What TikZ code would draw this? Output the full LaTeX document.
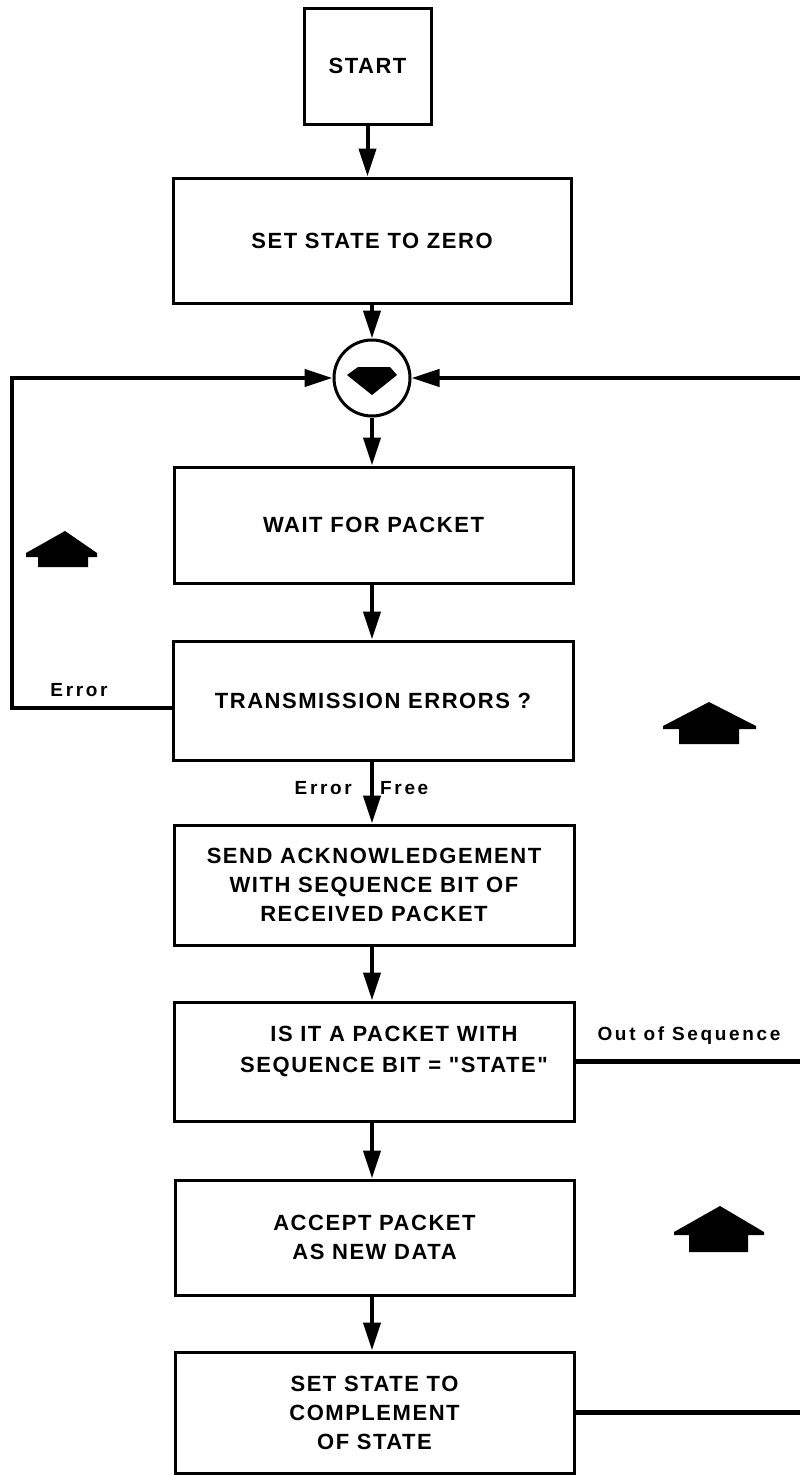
\documentclass[tikz,border=0pt]{standalone}
\usepackage{fontspec}
\newfontfamily\bxf{Liberation Sans}[LetterSpace=7]
\newfontfamily\lbf{Liberation Sans}[LetterSpace=14]
\usetikzlibrary{arrows.meta}
\begin{document}
\begin{tikzpicture}[x=1pt,y=-1pt,
  box/.style={draw, line width=3pt, inner sep=0pt, align=center,
    font=\bxf\bfseries\fontsize{22}{29}\selectfont},
  boxtext/.style={inner sep=0pt, align=center,
    font=\bxf\bfseries\fontsize{22}{31}\selectfont},
  conn/.style={line width=4pt, -{Triangle[length=28pt,width=17pt]}},
  plainline/.style={line width=4.5pt},
  lbl/.style={inner sep=0pt, font=\lbf\bfseries\fontsize{19}{22}\selectfont},
  fat/.style={fill=black}]
\useasboundingbox (0,0) rectangle (800,1476);
\fill[white] (0,0) rectangle (800,1476);

% boxes
\node[box, minimum width=127pt, minimum height=116pt] (start) at (367.5,66) {START};
\node[box, minimum width=398pt, minimum height=125pt] (zero) at (372,240.5) {SET STATE TO ZERO};
\node[draw, circle, line width=3pt, minimum size=76pt, inner sep=0pt] (junc) at (372,378) {};
\node[box, minimum width=399pt, minimum height=116pt] (wait) at (373.5,525) {WAIT FOR PACKET};
\node[box, minimum width=400pt, minimum height=119pt] (trans) at (373,700.5) {TRANSMISSION ERRORS ?};
\node[box, minimum width=400pt, minimum height=120pt] (ack) at (374,885)
  {SEND ACKNOWLEDGEMENT\\WITH SEQUENCE BIT OF\\RECEIVED PACKET};
\node[box, minimum width=400pt, minimum height=119pt] (seq) at (374,1061.5) {};
\node[boxtext] (seqt) at (394,1051) {IS IT A PACKET WITH\\SEQUENCE BIT = "STATE"};
\node[box, minimum width=399pt, minimum height=115pt] (acc) at (374.5,1237.5)
  {ACCEPT PACKET\\AS NEW DATA};
\node[box, minimum width=399pt, minimum height=121pt] (comp) at (374.5,1412.5)
  {SET STATE TO\\COMPLEMENT\\OF STATE};

% junction symbol
\fill (358,367) -- (390,367) -- (397,375) -- (372,395) -- (347,375) -- cycle;

% labels
\node[lbl] (errl) at (79,690) {Error};
\node[lbl, anchor=east] (errf) at (352,788) {Error};
\node[lbl, anchor=west] (free) at (380,788) {Free};
\node[lbl] (oos) at (689,1036) {Out of Sequence};

% coordinates at the right edge and left corner
\coordinate (lcorner) at (12,378);
\coordinate (r1) at (800,378);
\coordinate (r2) at (800,1061.5);
\coordinate (r3) at (800,1412.5);

% connectors
\draw[conn] (start.south) -- (start.south |- zero.north);
\draw[conn] (zero.south -| junc.center) -- (junc.north);
\draw[conn] (junc.south) -- (junc.south |- wait.north);
\draw[conn] (wait.south -| junc.center) -- (trans.north -| junc.center);
\draw[conn] (trans.south -| junc.center) -- (ack.north -| junc.center);
\draw[conn] (ack.south -| junc.center) -- (seq.north -| junc.center);
\draw[conn] (seq.south -| junc.center) -- (acc.north -| junc.center);
\draw[conn] (acc.south -| junc.center) -- (comp.north -| junc.center);
\draw[conn] ([yshift=-7.5pt]trans.west) -| (lcorner) -- (junc.west);
\draw[conn] (r1) -- (junc.east);
\draw[plainline] (seq.east) -- (r2);
\draw[plainline] (comp.east) -- (r3);

% fat arrows
\fill (26,553) -- (65,531) -- (97,553) -- (97,557) -- (88,557) -- (88,567) -- (38,567) -- (38,557) -- (26,557) -- cycle;
\fill (663,726) -- (709,702) -- (756,726) -- (756,729) -- (739,729) -- (739,744) -- (679,744) -- (679,729) -- (663,729) -- cycle;
\fill (674,1232) -- (720,1206) -- (764,1232) -- (764,1235) -- (748,1235) -- (748,1252) -- (689,1252) -- (689,1235) -- (674,1235) -- cycle;
\end{tikzpicture}
\end{document}
